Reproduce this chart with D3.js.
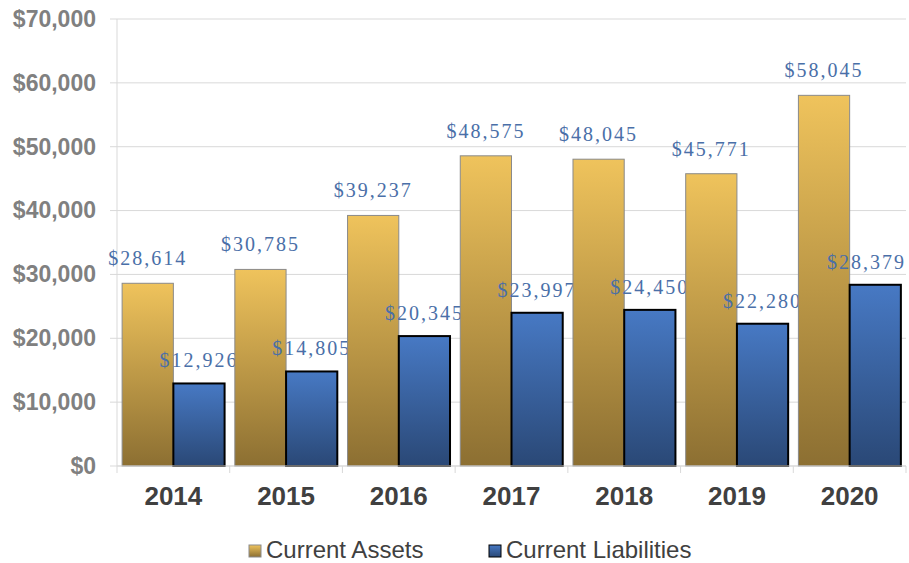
<!DOCTYPE html>
<html>
<head>
<meta charset="utf-8">
<script src="https://cdn.jsdelivr.net/npm/d3@7"></script>
<style>
  body { margin: 0; background: #fff; }
  svg { display: block; }
</style>
</head>
<body>
<div id="chart"></div>
<script>
const years = ['2014', '2015', '2016', '2017', '2018', '2019', '2020'];
const series = ['Current Assets', 'Current Liabilities'];
const currentAssets = [28614, 30785, 39237, 48575, 48045, 45771, 58045];
const currentLiabilities = [12926, 14805, 20345, 23997, 24450, 22280, 28379];
const yTicks = [0, 10000, 20000, 30000, 40000, 50000, 60000, 70000];

const width = 909, height = 563;
const margin = {top: 19, right: 3, bottom: 97, left: 117};

const svg = d3.select('#chart').append('svg')
    .attr('width', width)
    .attr('height', height);

const defs = svg.append('defs');
const grads = [
    {id: 'gAssets', top: '#efc35c', bottom: '#8c6f32'},
    {id: 'gLiab', top: '#4779c4', bottom: '#2a4876'}
];
grads.forEach(g => {
    const lg = defs.append('linearGradient')
        .attr('id', g.id)
        .attr('x1', 0).attr('y1', 0).attr('x2', 0).attr('y2', 1);
    lg.append('stop').attr('offset', '0%').attr('stop-color', g.top);
    lg.append('stop').attr('offset', '100%').attr('stop-color', g.bottom);
});

const x0 = d3.scaleBand()
    .domain(years)
    .range([margin.left, width - margin.right]);

const x1 = d3.scaleBand()
    .domain(series)
    .range([0, x0.bandwidth()])
    .paddingOuter(0.1);

const y = d3.scaleLinear()
    .domain([0, 70000])
    .range([height - margin.bottom, margin.top]);

// gridlines
svg.append('g')
    .selectAll('line')
    .data(yTicks)
    .join('line')
    .attr('x1', margin.left - 7)
    .attr('x2', width - margin.right)
    .attr('y1', d => y(d))
    .attr('y2', d => y(d))
    .attr('stroke', '#d9d9d9')
    .attr('stroke-width', 1);

// vertical axis line
svg.append('line')
    .attr('x1', margin.left).attr('x2', margin.left)
    .attr('y1', y(70000)).attr('y2', y(0))
    .attr('stroke', '#d9d9d9');

// y axis labels
const yAxis = svg.append('g')
    .attr('transform', `translate(${margin.left},0)`)
    .call(d3.axisLeft(y).tickValues(yTicks).tickSize(0).tickPadding(21)
        .tickFormat(d => '$' + d3.format(',')(d)));
yAxis.select('.domain').remove();
yAxis.selectAll('text')
    .attr('fill', '#808080')
    .style('font-family', 'Liberation Sans, Arial, sans-serif')
    .style('font-size', '23px')
    .style('font-weight', 'bold');

const rows = years.map((yr, i) => ({
    year: yr,
    values: [
        {key: series[0], value: currentAssets[i]},
        {key: series[1], value: currentLiabilities[i]}
    ]
}));

const groups = svg.append('g')
    .selectAll('g')
    .data(rows)
    .join('g')
    .attr('transform', d => `translate(${x0(d.year)},0)`);

groups.selectAll('rect')
    .data(d => d.values)
    .join('rect')
    .attr('x', d => x1(d.key))
    .attr('width', x1.bandwidth())
    .attr('y', d => y(d.value))
    .attr('height', d => y(0) - y(d.value))
    .attr('fill', d => d.key === series[0] ? 'url(#gAssets)' : 'url(#gLiab)')
    .attr('stroke', d => d.key === series[0] ? '#8a8a8a' : '#000')
    .attr('stroke-width', d => d.key === series[0] ? 1 : 2);

// data labels, wide letter spacing
groups.selectAll('text.lbl')
    .data(d => d.values)
    .join('text')
    .attr('class', 'lbl')
    .attr('x', d => x1(d.key) + x1.bandwidth() / 2)
    .attr('y', d => y(d.value) - (d.key === series[0] ? 18 : 16))
    .attr('text-anchor', 'middle')
    .attr('fill', '#4a6fa8')
    .style('font-family', 'Liberation Serif, Times New Roman, serif')
    .style('font-size', '20px')
    .style('letter-spacing', '2px')
    .text(d => '$' + d3.format(',')(d.value));

// keep labels inside the plot area on the right
svg.selectAll('text.lbl').each(function() {
    const box = this.getBoundingClientRect();
    const overflow = box.right - (width - 3);
    if (overflow > 0) {
        const t = d3.select(this);
        t.attr('x', +t.attr('x') - overflow);
    }
});

// bottom axis line and boundary ticks
svg.append('line')
    .attr('x1', margin.left).attr('x2', width - margin.right)
    .attr('y1', y(0)).attr('y2', y(0))
    .attr('stroke', '#d9d9d9');
svg.append('g')
    .selectAll('line')
    .data(years.map(yr => x0(yr)).concat([x0.range()[1]]))
    .join('line')
    .attr('x1', d => d).attr('x2', d => d)
    .attr('y1', y(0)).attr('y2', y(0) + 7)
    .attr('stroke', '#d9d9d9');

const xAxis = svg.append('g')
    .attr('transform', `translate(0,${y(0)})`)
    .call(d3.axisBottom(x0).tickSize(0).tickPadding(21));
xAxis.select('.domain').remove();
xAxis.selectAll('text')
    .attr('fill', '#404040')
    .style('font-family', 'Liberation Sans, Arial, sans-serif')
    .style('font-size', '26px')
    .style('font-weight', 'bold');

// legend
const legendItems = [
    {name: series[0], fill: 'url(#gAssets)', stroke: '#8a8a8a', x: 249},
    {name: series[1], fill: 'url(#gLiab)', stroke: '#000', x: 489}
];
const legend = svg.append('g');
const li = legend.selectAll('g')
    .data(legendItems)
    .join('g')
    .attr('transform', d => `translate(${d.x},545)`);
li.append('rect')
    .attr('width', 12).attr('height', 12)
    .attr('fill', d => d.fill)
    .attr('stroke', d => d.stroke)
    .attr('stroke-width', 1);
li.append('text')
    .attr('x', 17)
    .attr('y', 13)
    .attr('fill', '#404040')
    .style('font-family', 'Liberation Sans, Arial, sans-serif')
    .style('font-size', '24px')
    .text(d => d.name);
</script>
</body>
</html>
